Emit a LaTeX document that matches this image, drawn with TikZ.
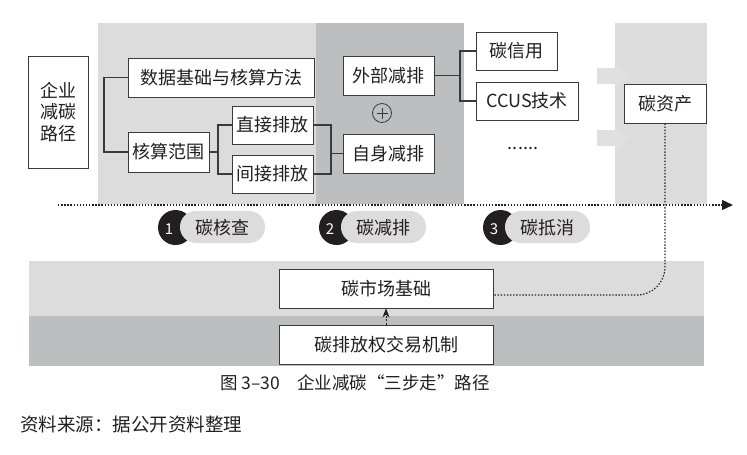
\documentclass[tikz,border=0pt]{standalone}
\usepackage{fontspec}
\setmainfont{Noto Sans CJK SC}
\usetikzlibrary{arrows.meta}
\definecolor{panellight}{HTML}{DCDCDD}
\definecolor{paneldark}{HTML}{BDBEBF}
\definecolor{ink}{HTML}{231F20}
\definecolor{linec}{HTML}{3A3A3A}
\definecolor{arrowgray}{HTML}{E0E0E1}
\tikzset{
  box/.style={draw=linec, line width=0.9pt, fill=white, inner sep=0pt, text=ink,
    font=\fontsize{18}{21.5}\selectfont},
  conn/.style={draw=linec, line width=1.1pt},
  dotline/.style={draw=ink, line width=1.2pt, dash pattern=on 1.4pt off 1.7pt},
  badgetext/.style={text=ink, inner sep=0pt, font=\fontsize{18}{21}\selectfont},
  badgenum/.style={text=white, inner sep=0pt, font=\fontsize{15}{18}\selectfont},
}
\begin{document}
\begin{tikzpicture}[x=1pt,y=-1pt]
\useasboundingbox (0,0) rectangle (747,455);
\fill[white] (0,0) rectangle (747,455);

% panels
\fill[panellight] (98,23) rectangle (316,204);
\fill[paneldark] (316,23) rectangle (464,204);
\fill[panellight] (615,23) rectangle (707,204);
\fill[panellight] (29,261) rectangle (704,316);
\fill[paneldark] (29,316) rectangle (704,366);

% block arrows
\fill[arrowgray] (597,68) -- (616,68) -- (616,63) -- (629,76) -- (616,89) -- (616,84) -- (597,84) -- cycle;
\fill[arrowgray] (597,130) -- (616,130) -- (616,125) -- (629,138) -- (616,151) -- (616,146) -- (597,146) -- cycle;

% boxes
\node[box, minimum width=60pt, minimum height=112pt, align=center] (qy) at (58,112) {企业\\减碳\\路径};
\node[box, minimum width=186pt, minimum height=39pt] (sj) at (221,77.5) {数据基础与核算方法};
\node[box, minimum width=81pt, minimum height=40pt] (hs) at (168.5,152) {核算范围};
\node[box, minimum width=81pt, minimum height=38pt] (zj) at (272.5,125) {直接排放};
\node[box, minimum width=81pt, minimum height=38pt] (jj) at (272.5,174) {间接排放};
\node[box, minimum width=91pt, minimum height=39pt] (wb) at (388.5,75.5) {外部减排};
\node[box, minimum width=91pt, minimum height=39pt] (zs) at (388.5,153.5) {自身减排};
\node[draw=linec, line width=0.8pt, circle, minimum size=19pt, inner sep=0pt] (plus) at (382,113) {};
\draw[linec, line width=0.8pt] ([xshift=-5.5pt]plus.center) -- ([xshift=5.5pt]plus.center);
\draw[linec, line width=0.8pt] ([yshift=-5.5pt]plus.center) -- ([yshift=5.5pt]plus.center);
\node[box, minimum width=81pt, minimum height=38pt] (txy) at (516.5,51) {碳信用};
\node[box, minimum width=102pt, minimum height=38pt] (ccus) at (527,101) {CCUS技术};
\node[text=ink, inner sep=0pt, anchor=base, font=\fontsize{18}{21}\selectfont] (dots) at (523,149) {......};
\node[box, minimum width=82pt, minimum height=39pt] (tzc) at (665,103.5) {碳资产};
\node[box, minimum width=214pt, minimum height=39pt] (scjc) at (386,288.5) {碳市场基础};
\node[box, minimum width=214pt, minimum height=39pt] (jyjz) at (386,344.5) {碳排放权交易机制};

% connectors
\coordinate (b0) at (104,77.5);
\draw[conn] (sj.west) -- (b0) |- (hs.west);
\coordinate (b1) at (218,152);
\draw[conn] (hs.east) -- (b1);
\draw[conn] (zj.west) -| (b1) |- (jj.west);
\coordinate (b2) at (331,153.5);
\draw[conn] (zj.east) -| (b2) |- (jj.east);
\draw[conn] (b2) -- (zs.west);
\coordinate (b3) at (460,75.5);
\draw[conn] (wb.east) -- (b3);
\draw[conn] (txy.west) -| (b3) |- (ccus.west);

% timeline arrow
\coordinate (as) at (58,205);
\coordinate (ae) at (733,205);
\draw[dotline, -{Triangle[length=11pt,width=10pt]}] (as) -- (ae);

% carbon asset to market link
\coordinate (mk) at ([yshift=-6.5pt]scjc.east);
\draw[dotline, rounded corners=28pt] (tzc.south) |- (mk);

% market arrow
\draw[draw=ink, line width=0.9pt, dash pattern=on 2pt off 1.5pt, -{Stealth[length=9pt,width=7pt]}] (jyjz.north) -- (scjc.south);

% badges
\foreach \x/\n/\t [count=\i] in {158/1/碳核查, 319/2/碳减排, 483/3/碳抵消} {
  \fill[ink] (\x+17.5,227.5) circle[radius=17.5pt];
  \fill[panellight, rounded corners=15.9pt] (\x+22,211) rectangle (\x+107,243);
  \node[badgenum] (n\i) at (\x+11,229) {\n};
  \node[badgetext] (t\i) at (\x+64,228) {\t};
}

% captions
\node[text=ink, inner sep=0pt, font=\fontsize{17.5}{21}\selectfont] (cap) at (355,383) {图 3–30\quad 企业减碳“三步走”路径};
\node[text=ink, inner sep=0pt, anchor=west, font=\fontsize{18.5}{22}\selectfont] (src) at (20,425) {资料来源：据公开资料整理};
\end{tikzpicture}
\end{document}
